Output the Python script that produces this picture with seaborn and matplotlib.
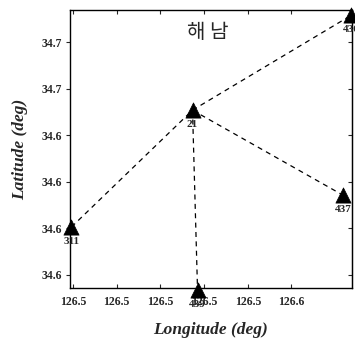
import matplotlib
matplotlib.use("Agg")
import matplotlib.pyplot as plt
import seaborn as sns
import pandas as pd
from matplotlib.ticker import FormatStrFormatter

# Station positions (Haenam network)
stations = ["311", "21", "436", "437", "439"]
lon = [126.4593, 126.5147, 126.5874, 126.5837, 126.5170]
lat = [34.6006, 34.6508, 34.6916, 34.6142, 34.5735]

# Baselines between stations (dashed)
links = [("311", "21"), ("21", "436"), ("21", "437"), ("21", "439")]

xticks = [126.46, 126.48, 126.50, 126.52, 126.54, 126.56]
yticks = [34.58, 34.60, 34.62, 34.64, 34.66, 34.68]

title = "해 남"
xlabel = "Longitude (deg)"
ylabel = "Latitude (deg)"

sns.set_style("ticks")
plt.rcParams["font.family"] = ["Liberation Serif", "DejaVu Serif"]

pts = pd.DataFrame({"station": stations, "lon": lon, "lat": lat})
pos = pts.set_index("station")
rows = []
for i, (a, b) in enumerate(links):
    for s in (a, b):
        rows.append({"seg": i, "lon": pos.loc[s, "lon"], "lat": pos.loc[s, "lat"]})
segs = pd.DataFrame(rows)

fig = plt.figure(figsize=(3.55, 3.47), dpi=100)
ax = fig.add_axes([0.197, 0.170, 0.794, 0.801])

sns.lineplot(data=segs, x="lon", y="lat", units="seg", estimator=None, sort=False,
             color="black", linewidth=0.9, dashes=False, ax=ax)
for line in ax.lines:
    line.set_linestyle((0, (4, 3.5)))

sns.scatterplot(data=pts, x="lon", y="lat", marker="^", s=120, color="black",
                edgecolor="black", linewidth=0.5, ax=ax, clip_on=False, zorder=5)

for s, x, y in zip(stations, lon, lat):
    ax.annotate(s, (x, y), xytext=(0, -10.5), textcoords="offset points",
                ha="center", va="center", fontsize=8, fontweight="bold",
                annotation_clip=False, zorder=6)

ax.set_xlim(126.4586, 126.5876)
ax.set_ylim(34.5744, 34.6938)
ax.set_xticks(xticks)
ax.set_yticks(yticks)
ax.xaxis.set_major_formatter(FormatStrFormatter("%.1f"))
ax.yaxis.set_major_formatter(FormatStrFormatter("%.1f"))
ax.tick_params(axis="x", direction="in", top=True, length=3, width=0.8,
               labelsize=8.5, pad=6)
ax.tick_params(axis="y", direction="out", length=3, width=0.8, labelsize=8.5, pad=3)
for lbl in ax.get_xticklabels() + ax.get_yticklabels():
    lbl.set_fontweight("bold")

right = ax.secondary_yaxis("right")
right.set_yticks(yticks)
right.tick_params(direction="in", length=3, width=0.8, labelright=False)

for sp in ax.spines.values():
    sp.set_visible(True)
    sp.set_linewidth(1.0)
    sp.set_color("black")

ax.text(0.49, 0.92, title, transform=ax.transAxes, ha="center", va="center",
        fontsize=14.5, family=["Noto Sans CJK KR", "DejaVu Sans"])

ax.set_xlabel(xlabel, fontsize=12.5, fontweight="bold", fontstyle="italic", labelpad=10)
ax.set_ylabel(ylabel, fontsize=12.5, fontweight="bold", fontstyle="italic", labelpad=9)

fig.savefig("out.png", dpi=100)
